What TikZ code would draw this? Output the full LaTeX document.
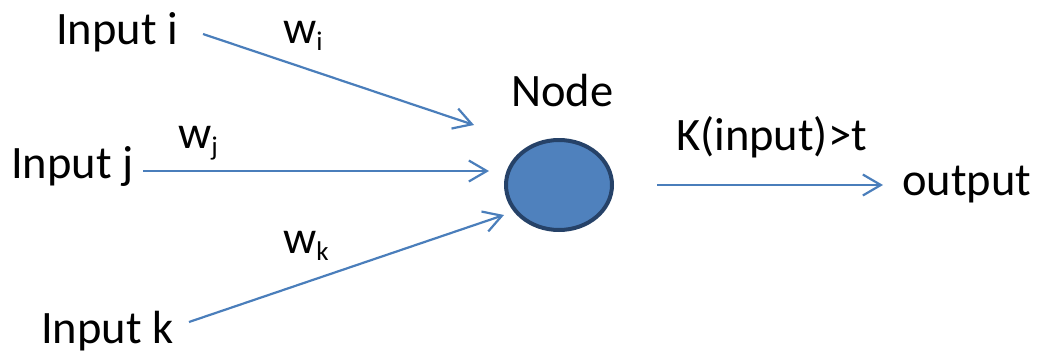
\documentclass[tikz,border=0pt]{standalone}
\usepackage{fontspec}
\setmainfont{Carlito}
\usetikzlibrary{arrows.meta,shapes.geometric}
\definecolor{linkblue}{RGB}{74,126,187}
\definecolor{cellfill}{RGB}{79,129,189}
\definecolor{celledge}{RGB}{38,66,104}
\newcommand{\wsub}[1]{w\raisebox{-0.16em}{\fontsize{27}{27}\selectfont #1}}
\tikzset{
  lbl/.style={inner sep=0pt, anchor=base west, font=\fontsize{46.5}{56}\selectfont},
  link/.style={draw=linkblue, line width=2.2pt, -{Straight Barb[length=18pt,width=21pt,line width=2.2pt]}},
  cell/.style={ellipse, draw=celledge, fill=cellfill, line width=4pt,
               minimum width=106pt, minimum height=90pt, inner sep=0pt}
}
\begin{document}
\begin{tikzpicture}[x=1pt, y=-1pt]
  \useasboundingbox (0,0) rectangle (1040,354);

  % text labels
  \node[lbl] (inI) at (56,44) {Input i};
  \node[lbl] (inJ) at (11,178) {Input j};
  \node[lbl] (inK) at (41,343) {Input k};
  \node[lbl] (wI) at (283,43) {\wsub{i}};
  \node[lbl] (wJ) at (178,148) {\wsub{j}};
  \node[lbl] (wK) at (283,253) {\wsub{k}};
  \node[lbl] (nodeLbl) at (511,106) {Node};
  \node[lbl] (rule) at (676,150) {K(input)>t};
  \node[lbl] (out) at (902,195) {output};

  % the summing unit
  \node[cell] (cell) at (559,185) {};

  % connector end points
  \coordinate (sI) at (203,34);
  \coordinate (tI) at (474,125);
  \coordinate (sJ) at (143,171);
  \coordinate (tJ) at (489,171);
  \coordinate (sK) at (189,322);
  \coordinate (tK) at (504,215);
  \coordinate (sO) at (657,185);
  \coordinate (tO) at (883,185);

  \draw[link] (sI) -- (tI);
  \draw[link] (sJ) -- (tJ);
  \draw[link] (sK) -- (tK);
  \draw[link] (sO) -- (tO);
\end{tikzpicture}
\end{document}
